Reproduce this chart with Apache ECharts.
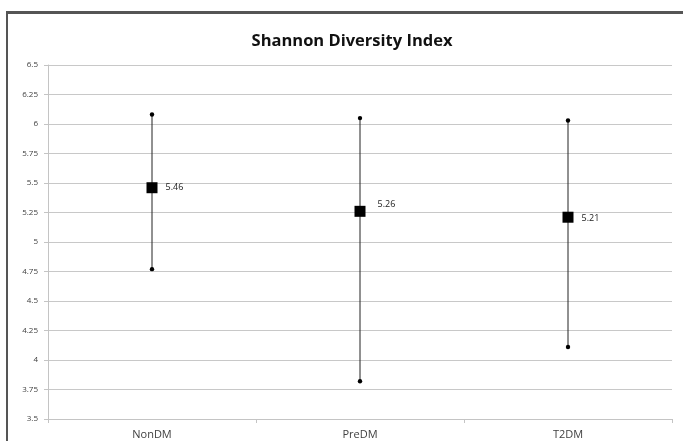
<!DOCTYPE html>
<html>
<head>
<meta charset="utf-8">
<script src="https://cdn.jsdelivr.net/npm/echarts@6/dist/echarts.min.js"></script>
<style>
html,body{margin:0;padding:0;background:#fff;}
#frame{position:absolute;left:6px;top:11px;width:700px;height:460px;border-left:2px solid #555;border-top:3px solid #555;box-sizing:border-box;}
#chart{position:absolute;left:0;top:0;width:683px;height:441px;}
</style>
</head>
<body>
<div id="frame"></div>
<div id="chart"></div>
<script>
const categories = ['NonDM', 'PreDM', 'T2DM'];
const meanValues = [5.46, 5.26, 5.21];
const upperValues = [6.08, 6.05, 6.03];
const lowerValues = [4.77, 3.82, 4.11];
const yTicks = [3.5, 3.75, 4, 4.25, 4.5, 4.75, 5, 5.25, 5.5, 5.75, 6, 6.25, 6.5];

const chart = echarts.init(document.getElementById('chart'), null, {renderer: 'canvas'});

const errData = categories.map((c, i) => [i, lowerValues[i], upperValues[i]]);
const labelOffsets = [[2, 0], [6, -7], [2, 1]];

chart.setOption({
  animation: false,
  backgroundColor: 'transparent',
  title: {
    text: 'Shannon Diversity Index',
    left: 347,
    textAlign: 'center',
    top: 28,
    textStyle: {fontFamily: 'Open Sans', fontWeight: 'bold', fontSize: 16.5, color: '#111'}
  },
  grid: {left: 48, right: 11, top: 65, bottom: 22, containLabel: false},
  xAxis: {
    type: 'category',
    data: categories,
    boundaryGap: true,
    axisLine: {lineStyle: {color: '#c4c4c4', width: 1}},
    axisTick: {show: true, length: 4, lineStyle: {color: '#c4c4c4'}},
    axisLabel: {color: '#404040', fontFamily: 'Open Sans', fontSize: 11, margin: 10},
    splitLine: {show: false}
  },
  yAxis: {
    type: 'value',
    min: 3.5,
    max: 6.5,
    interval: 0.25,
    axisLine: {show: true, lineStyle: {color: '#c4c4c4', width: 1}},
    axisTick: {show: true, length: 4, lineStyle: {color: '#c4c4c4'}},
    axisLabel: {
      color: '#404040', fontFamily: 'Open Sans', fontSize: 8, margin: 10,
      formatter: v => yTicks.includes(v) ? String(v) : ''
    },
    splitLine: {show: true, lineStyle: {color: '#c8c8c8', width: 1}}
  },
  series: [
    {
      type: 'custom',
      data: errData,
      z: 2,
      renderItem: function (params, api) {
        const x = api.value(0);
        const lo = api.coord([x, api.value(1)]);
        const hi = api.coord([x, api.value(2)]);
        return {
          type: 'group',
          children: [
            {type: 'line', shape: {x1: lo[0], y1: lo[1], x2: hi[0], y2: hi[1]}, style: {stroke: '#222', lineWidth: 1}},
            {type: 'circle', shape: {cx: lo[0], cy: lo[1], r: 2.2}, style: {fill: '#000'}},
            {type: 'circle', shape: {cx: hi[0], cy: hi[1], r: 2.2}, style: {fill: '#000'}}
          ]
        };
      }
    },
    {
      type: 'scatter',
      z: 3,
      symbol: 'rect',
      symbolSize: 11,
      itemStyle: {color: '#000', opacity: 1},
      data: meanValues.map((v, i) => ({
        value: [i, v],
        label: {offset: labelOffsets[i]}
      })),
      label: {
        show: true,
        position: 'right',
        distance: 6,
        color: '#222',
        fontFamily: 'Open Sans',
        fontSize: 9,
        formatter: p => p.value[1].toFixed(2)
      }
    }
  ]
});
</script>
</body>
</html>
